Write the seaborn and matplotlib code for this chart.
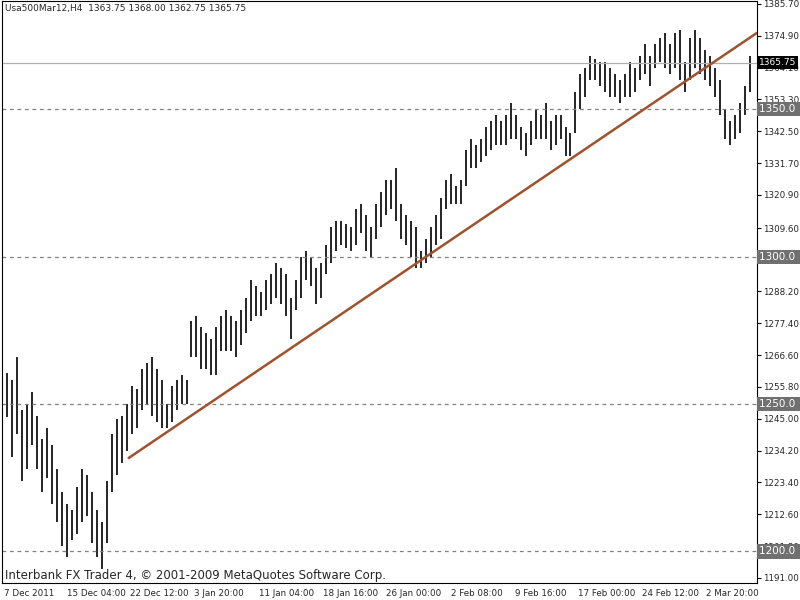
import matplotlib
matplotlib.use("Agg")
import matplotlib.pyplot as plt
import seaborn as sns
import numpy as np
import pandas as pd

highs = [1260.5,1258,1266,1248,1250,1254,1246,1238,1242,1236,
         1228,1220,1216,1214,1222,1228,1226,1220,1214,1210,
         1224,1240,1245,1246,1250,1256,1255,1262,1264,1266,
         1262,1258,1250,1256,1258,1260,1258,1278,1280,1276,
         1274,1272,1276,1280,1282,1280,1278,1282,1286,1292,
         1290,1288,1292,1294,1298,1296,1294,1286,1292,1300,
         1302,1300,1296,1298,1304,1310,1312,1312,1311,1310,
         1316,1318,1314,1310,1318,1322,1326,1326,1330,1318,
         1314,1312,1310,1302,1306,1310,1314,1320,1326,1328,
         1324,1326,1336,1340,1338,1340,1344,1346,1348,1346,
         1348,1352,1348,1344,1342,1346,1350,1348,1352,1346,
         1348,1348,1344,1342,1356,1362,1364,1368,1367,1366,
         1366,1364,1362,1360,1362,1366,1364,1368,1372,1368,
         1372,1374,1376,1372,1376,1377,1366,1374,1377,1374,
         1370,1368,1364,1360,1350,1346,1348,1352,1358,1368]
lows = [1245.5,1232,1240,1224,1228,1236,1228,1220,1225,1216,
        1210,1202,1198,1204,1206,1210,1212,1203,1198,1194,
        1203,1220,1226,1230,1234,1240,1242,1248,1250,1246,
        1244,1242,1242,1244,1248,1250,1250,1266,1266,1262,
        1262,1260,1260,1268,1268,1268,1266,1270,1274,1278,
        1280,1280,1282,1284,1286,1284,1280,1272,1282,1286,
        1292,1290,1284,1286,1294,1298,1302,1304,1303,1302,
        1304,1308,1302,1300,1306,1310,1314,1316,1312,1306,
        1304,1300,1296,1296,1298,1300,1304,1306,1316,1318,
        1318,1318,1324,1330,1330,1332,1334,1336,1338,1338,
        1338,1340,1340,1336,1334,1338,1340,1340,1340,1336,
        1338,1340,1334,1334,1342,1350,1354,1360,1360,1358,
        1356,1354,1354,1352,1354,1354,1356,1360,1362,1358,
        1364,1366,1364,1362,1364,1360,1356,1360,1364,1362,
        1360,1358,1354,1348,1340,1338,1340,1342,1348,1356]
last_close = 1365.75
levels = [1350.0, 1300.0, 1250.0, 1200.0]
ytick_vals = [1385.70,1374.90,1364.10,1353.30,1342.50,1331.70,1320.90,1309.60,
              1288.20,1277.40,1266.60,1255.80,1245.00,1234.20,1223.40,1212.60,1201.80,1191.00]
xtick_labels = ["7 Dec 2011","15 Dec 04:00","22 Dec 12:00","3 Jan 20:00","11 Jan 04:00",
                "18 Jan 16:00","26 Jan 00:00","2 Feb 08:00","9 Feb 16:00","17 Feb 00:00",
                "24 Feb 12:00","2 Mar 20:00"]
xtick_pos = [-0.6, 12, 24.6, 37.6, 50.6, 63.4, 76, 89, 101.8, 114.6, 127.4, 140.2]
trend_idx = [24.4, 150.4]
trend_price = [1231.7, 1375.9]

sns.set_style("white")
plt.rcParams['font.family'] = ['DejaVu Sans']
fig = plt.figure(figsize=(8, 6), dpi=100)
ax = fig.add_axes([2/800, 17/600, 755/800, 582/600])
df = pd.DataFrame({"i": np.arange(len(highs)), "h": highs, "l": lows})
ax.vlines(df["i"], df["l"], df["h"], color="black", lw=1.2)
for lv in levels:
    ax.axhline(lv, color="#808080", ls=(0, (3, 3)), lw=0.9)
ax.axhline(last_close, color="#b0b0b0", lw=0.9)
sns.lineplot(x=trend_idx, y=trend_price, ax=ax, color="#A0522D", lw=1.8)
ax.set_xlim(-1, 150.4)
ax.set_ylim(1189.3, 1386.7)
ax.yaxis.tick_right()
ax.set_yticks(ytick_vals)
ax.set_yticklabels([f"{v:.2f}" for v in ytick_vals], fontsize=6.3)
ax.set_xticks(xtick_pos)
ax.set_xticklabels(xtick_labels, fontsize=6.3, ha="left")
ax.tick_params(axis="both", length=3, pad=1.5, color="black")
for s in ax.spines.values():
    s.set_color("black"); s.set_linewidth(0.8)
for lv in levels:
    ax.text(1.003, lv, f"{lv:.1f}" + " ", transform=ax.get_yaxis_transform(), fontsize=7.5,
            color="white", va="center", ha="left", zorder=10,
            bbox=dict(boxstyle="square,pad=0.2", fc="#707070", ec="none"))
ax.text(1.003, last_close, f"{last_close:.2f}", transform=ax.get_yaxis_transform(), fontsize=6.5,
        color="white", va="center", ha="left", zorder=10,
        bbox=dict(boxstyle="square,pad=0.2", fc="black", ec="none"))
ax.text(0.004, 0.995, "Usa500Mar12,H4  1363.75 1368.00 1362.75 1365.75",
        transform=ax.transAxes, fontsize=6.5, va="top", ha="left")
ax.text(0.004, 0.002, "Interbank FX Trader 4, © 2001-2009 MetaQuotes Software Corp.",
        transform=ax.transAxes, fontsize=8.5, va="bottom", ha="left")
fig.savefig("out.png", dpi=100)
